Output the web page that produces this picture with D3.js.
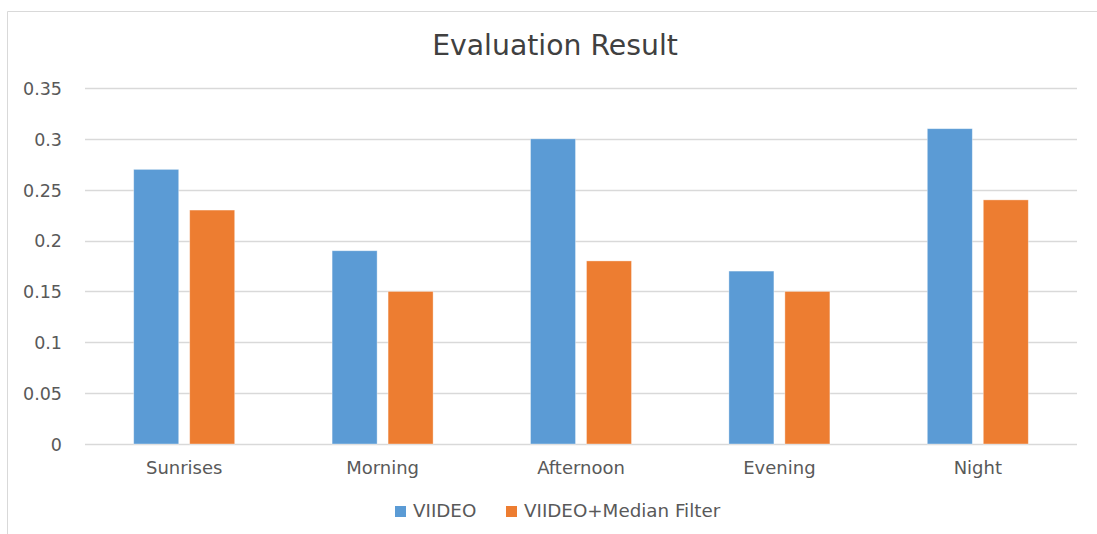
<!DOCTYPE html>
<html>
<head>
<meta charset="utf-8">
<script src="https://cdn.jsdelivr.net/npm/d3@7"></script>
<style>
  body { margin: 0; background: #fff; }
  svg text { font-family: "DejaVu Sans", sans-serif; fill: #595959; }
</style>
</head>
<body>
<svg id="chart" width="1097" height="534"></svg>
<script>
// chart data
var categories = ["Sunrises", "Morning", "Afternoon", "Evening", "Night"];
var seriesNames = ["VIIDEO", "VIIDEO+Median Filter"];
var viideo = [0.27, 0.19, 0.30, 0.17, 0.31];
var viideoMedian = [0.23, 0.15, 0.18, 0.15, 0.24];
var yTicks = [0, 0.05, 0.1, 0.15, 0.2, 0.25, 0.3, 0.35];
var colors = ["#5b9bd5", "#ed7d31"];

var rows = categories.map(function(c, i) {
    return { cat: c, values: [viideo[i], viideoMedian[i]] };
});

var svg = d3.select("#chart");
var plot = { left: 85, right: 1077, top: 88, bottom: 444 };

// chart border (top + left only visible)
svg.append("path")
    .attr("d", "M7.5,534 V11.5 H1097")
    .attr("fill", "none")
    .attr("stroke", "#d9d9d9")
    .attr("stroke-width", 1);

var x0 = d3.scaleBand().domain(categories).range([plot.left, plot.right]).padding(0);
var groupW = 101;
var x1 = d3.scaleBand().domain(d3.range(seriesNames.length)).range([0, groupW])
    .paddingInner(0.196).paddingOuter(0);
var y = d3.scaleLinear().domain([0, 0.35]).range([plot.bottom, plot.top]);

// gridlines
svg.append("g")
    .selectAll("line")
    .data(yTicks)
    .enter()
    .append("line")
    .attr("x1", plot.left)
    .attr("x2", plot.right)
    .attr("y1", function(d) { return Math.round(y(d)) + 0.5; })
    .attr("y2", function(d) { return Math.round(y(d)) + 0.5; })
    .attr("stroke", "#d9d9d9")
    .attr("stroke-width", 1.3);

// y axis labels
var yAxis = svg.append("g")
    .attr("transform", "translate(" + 62 + ",0)")
    .call(d3.axisLeft(y).tickValues(yTicks).tickSize(0).tickPadding(0)
        .tickFormat(function(d) { return String(+d.toFixed(2)); }));
yAxis.select(".domain").remove();
yAxis.selectAll("text")
    .attr("font-size", 17.5)
    .attr("font-family", "DejaVu Sans")
    .attr("fill", "#595959")
    .attr("dy", "0.36em");

// bars
var groups = svg.append("g")
    .selectAll("g")
    .data(rows)
    .enter()
    .append("g")
    .attr("transform", function(d) {
        return "translate(" + (x0(d.cat) + (x0.bandwidth() - groupW) / 2) + ",0)";
    });

groups.selectAll("rect")
    .data(function(d) { return d.values; })
    .enter()
    .append("rect")
    .attr("x", function(d, i) { return x1(i); })
    .attr("width", x1.bandwidth())
    .attr("y", function(d) { return y(d); })
    .attr("height", function(d) { return y(0) - y(d); })
    .attr("fill", function(d, i) { return colors[i]; })
    .attr("stroke", "#ffffff")
    .attr("stroke-opacity", 0.45)
    .attr("stroke-width", 0.8);

// x axis labels
var xAxis = svg.append("g")
    .attr("transform", "translate(0," + plot.bottom + ")")
    .call(d3.axisBottom(x0).tickSize(0).tickPadding(0));
xAxis.select(".domain").remove();
xAxis.selectAll("text")
    .attr("font-size", 18)
    .attr("font-family", "DejaVu Sans")
    .attr("fill", "#595959")
    .attr("dy", null)
    .attr("y", 30);

// title
svg.append("text")
    .attr("x", 555)
    .attr("y", 55)
    .attr("text-anchor", "middle")
    .attr("font-size", 28.3)
    .style("fill", "#404040")
    .text("Evaluation Result");

// legend
var legendX = [395, 506];
var legend = svg.append("g")
    .selectAll("g")
    .data(seriesNames)
    .enter()
    .append("g")
    .attr("transform", function(d, i) { return "translate(" + legendX[i] + ",506)"; });
legend.append("rect")
    .attr("width", 11)
    .attr("height", 11)
    .attr("fill", function(d, i) { return colors[i]; });
legend.append("text")
    .attr("x", 18)
    .attr("y", 11)
    .attr("font-size", 18.3)
    .text(function(d) { return d; });
</script>
</body>
</html>
